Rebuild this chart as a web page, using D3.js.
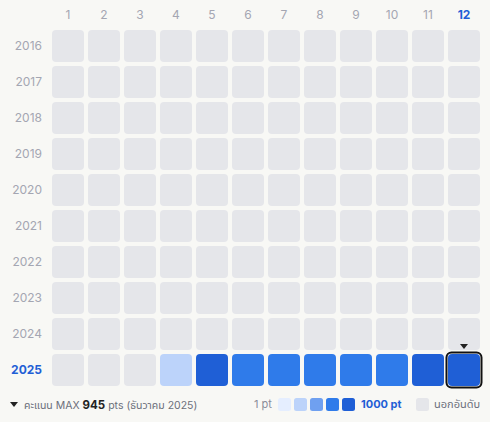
<!DOCTYPE html>
<html><head><meta charset="utf-8">
<script src="https://cdn.jsdelivr.net/npm/d3@7"></script>
<style>
html,body{margin:0;padding:0;background:#f8f8f5;}
svg{display:block;font-family:Inter,"Noto Sans","Noto Sans Thai",sans-serif;}
</style></head>
<body><svg id="c" width="490" height="422"></svg>
<script>
const months = ["1","2","3","4","5","6","7","8","9","10","11","12"];
const years = ["2016","2017","2018","2019","2020","2021","2022","2023","2024","2025"];
// scores for 2025 (null = out of ranking); earlier years all out of ranking
const scores2025 = [null,null,null,280,860,700,720,710,700,690,880,945];
const legendColors = ["#e5eeff","#bcd3fa","#6fa0f0","#2f7bea","#1f5fd6"];
const maxInfo = {value:945, label:"ธันวาคม 2025"};

const svg = d3.select("#c");
const x = d3.scaleBand().domain(months).range([50,482]).paddingInner(4/36).paddingOuter(2/36);
const y = d3.scaleBand().domain(years).range([28,388]).paddingInner(4/36).paddingOuter(2/36);
const color = d3.scaleQuantize().domain([1,1000]).range(legendColors);
const gray = "#e5e6ea", labelGray = "#a4a6b2", blue = "#1f5fd6";

svg.append("g").selectAll("text").data(months).join("text")
  .attr("x",d=>x(d)+x.bandwidth()/2).attr("y",16).attr("text-anchor","middle").attr("dominant-baseline","middle")
  .attr("font-size",12).attr("font-weight",d=>d==="12"?700:400).attr("fill",d=>d==="12"?blue:labelGray).text(d=>d);

svg.append("g").selectAll("text").data(years).join("text")
  .attr("x",42).attr("y",d=>y(d)+y.bandwidth()/2+1).attr("text-anchor","end").attr("dominant-baseline","middle")
  .attr("font-size",12).attr("font-weight",d=>d==="2025"?700:400).attr("fill",d=>d==="2025"?blue:labelGray).text(d=>d);

const cells = [];
years.forEach(yr=>months.forEach((m,i)=>{
  const v = yr==="2025" ? scores2025[i] : null;
  cells.push({yr,m,v});
}));
svg.append("g").selectAll("rect").data(cells).join("rect")
  .attr("x",d=>x(d.m)).attr("y",d=>y(d.yr)).attr("width",x.bandwidth()).attr("height",y.bandwidth())
  .attr("rx",4).attr("fill",d=>d.v==null?gray:color(d.v));

// highlight max
const mi = scores2025.indexOf(d3.max(scores2025));
const mx = x(months[mi]), my = y("2025");
svg.append("rect").attr("x",mx-1.5).attr("y",my-1.5).attr("width",x.bandwidth()+3).attr("height",y.bandwidth()+3)
  .attr("rx",5).attr("fill","none").attr("stroke","#111").attr("stroke-width",2);
const cx = mx+x.bandwidth()/2;
svg.append("path").attr("d",`M${cx-4},${my-10}L${cx+4},${my-10}L${cx},${my-5}Z`).attr("fill","#222");

// bottom-left note
svg.append("path").attr("d","M10,402L18,402L14,407Z").attr("fill","#222");
const t = svg.append("text").attr("x",24).attr("y",406).attr("dominant-baseline","middle").attr("font-size",10.5).attr("fill","#6b6f7b");
t.append("tspan").text("คะแนน MAX ");
t.append("tspan").attr("font-weight",700).attr("fill","#222").attr("font-size",11.5).text(maxInfo.value);
t.append("tspan").text(` pts (${maxInfo.label})`);

// legend
svg.append("text").attr("x",254).attr("y",405).attr("dominant-baseline","middle").attr("font-size",11).attr("fill","#8a8d99").text("1 pt");
svg.append("g").selectAll("rect").data(legendColors).join("rect")
  .attr("x",(d,i)=>278+i*16).attr("y",398).attr("width",13).attr("height",13).attr("rx",2.5).attr("fill",d=>d);
svg.append("text").attr("x",361).attr("y",405).attr("dominant-baseline","middle").attr("font-size",11).attr("font-weight",700).attr("fill",blue).text("1000 pt");
svg.append("rect").attr("x",416).attr("y",398).attr("width",13).attr("height",13).attr("rx",2.5).attr("fill",gray);
svg.append("text").attr("x",434).attr("y",405).attr("dominant-baseline","middle").attr("font-size",11).attr("fill","#6b6f7b").text("นอกอันดับ");
</script></body></html>
